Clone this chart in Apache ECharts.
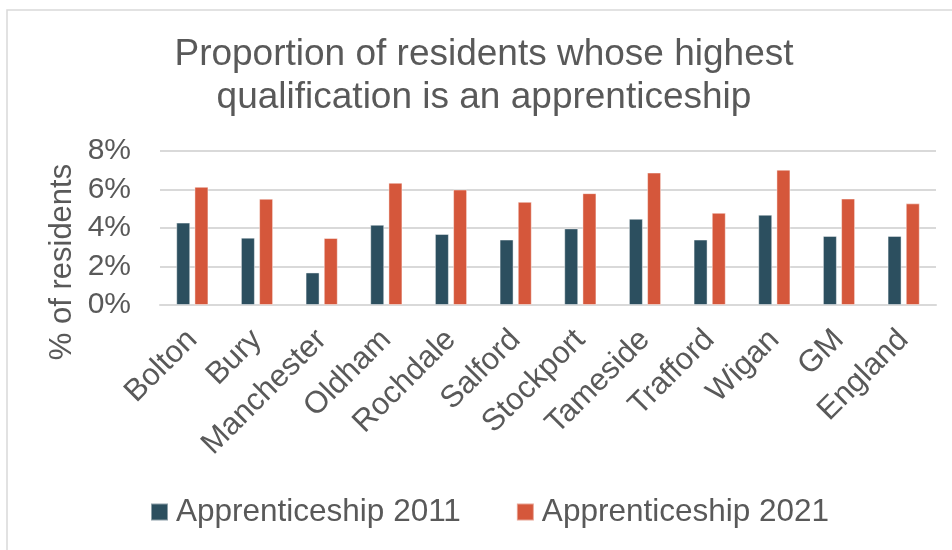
<!DOCTYPE html>
<html>
<head>
<meta charset="utf-8">
<script src="https://cdn.jsdelivr.net/npm/echarts@6/dist/echarts.min.js"></script>
<style>
html,body{margin:0;padding:0;background:#fff;}
#chart{width:952px;height:550px;}
</style>
</head>
<body>
<div id="chart"></div>
<script>
var categories = ['Bolton','Bury','Manchester','Oldham','Rochdale','Salford','Stockport','Tameside','Trafford','Wigan','GM','England'];
var apprenticeship2011 = [4.28, 3.50, 1.69, 4.17, 3.69, 3.40, 3.98, 4.48, 3.40, 4.69, 3.59, 3.59];
var apprenticeship2021 = [6.14, 5.52, 3.48, 6.35, 6.00, 5.36, 5.81, 6.88, 4.79, 7.03, 5.53, 5.28];
var yTicks = [0, 2, 4, 6, 8];
var seriesNames = ['Apprenticeship 2011', 'Apprenticeship 2021'];

var FONT = '"Liberation Sans", Arial, sans-serif';
var TXT = '#595959';
var chart = echarts.init(document.getElementById('chart'), null, {renderer: 'canvas'});
chart.setOption({
  animation: false,
  backgroundColor: '#ffffff',
  textStyle: {fontFamily: FONT, color: TXT},
  title: {
    text: 'Proportion of residents whose highest\nqualification is an apprenticeship',
    left: 479, top: 28, textAlign: 'center',
    textStyle: {fontFamily: FONT, fontSize: 37, fontWeight: 'normal', color: TXT, lineHeight: 43}
  },
  graphic: [
    {type: 'rect', shape: {x: 7, y: 10, width: 1000, height: 600}, style: {fill: 'none', stroke: '#d9d9d9', lineWidth: 1.5}, silent: true},
    {type: 'text', x: 62, y: 262, rotation: Math.PI / 2,
     style: {text: '% of residents', fontFamily: FONT, fontSize: 31, fill: TXT, align: 'center', verticalAlign: 'middle'}}
  ],
  legend: {
    left: 150, top: 496, padding: 0,
    itemWidth: 17, itemHeight: 17, itemGap: 55,
    icon: 'rect',
    textStyle: {fontFamily: FONT, fontSize: 31.5, color: TXT, padding: [0, 0, 0, 3]},
    data: seriesNames
  },
  grid: {left: 160, right: 16, top: 151, bottom: 245, containLabel: false},
  xAxis: {
    type: 'category',
    data: categories,
    axisLine: {lineStyle: {color: '#d9d9d9', width: 2}},
    axisTick: {show: false},
    axisLabel: {rotate: 45, fontFamily: FONT, fontSize: 31, color: TXT, margin: 30, interval: 0}
  },
  yAxis: {
    type: 'value',
    min: 0, max: 8, interval: 2,
    axisLine: {show: false},
    axisTick: {show: false},
    splitLine: {lineStyle: {color: '#d9d9d9', width: 2}},
    axisLabel: {formatter: function (v) { return yTicks.indexOf(v) >= 0 ? v + '%' : ''; }, fontFamily: FONT, fontSize: 30, color: TXT, margin: 29}
  },
  series: [
    {name: seriesNames[0], type: 'bar', data: apprenticeship2011, barWidth: 14, barGap: '30%',
     itemStyle: {color: '#2c4f5f', borderColor: 'rgba(255,255,255,0.45)', borderWidth: 1}},
    {name: seriesNames[1], type: 'bar', data: apprenticeship2021, barWidth: 14,
     itemStyle: {color: '#d5573b', borderColor: 'rgba(255,255,255,0.45)', borderWidth: 1}}
  ]
});
</script>
</body>
</html>
